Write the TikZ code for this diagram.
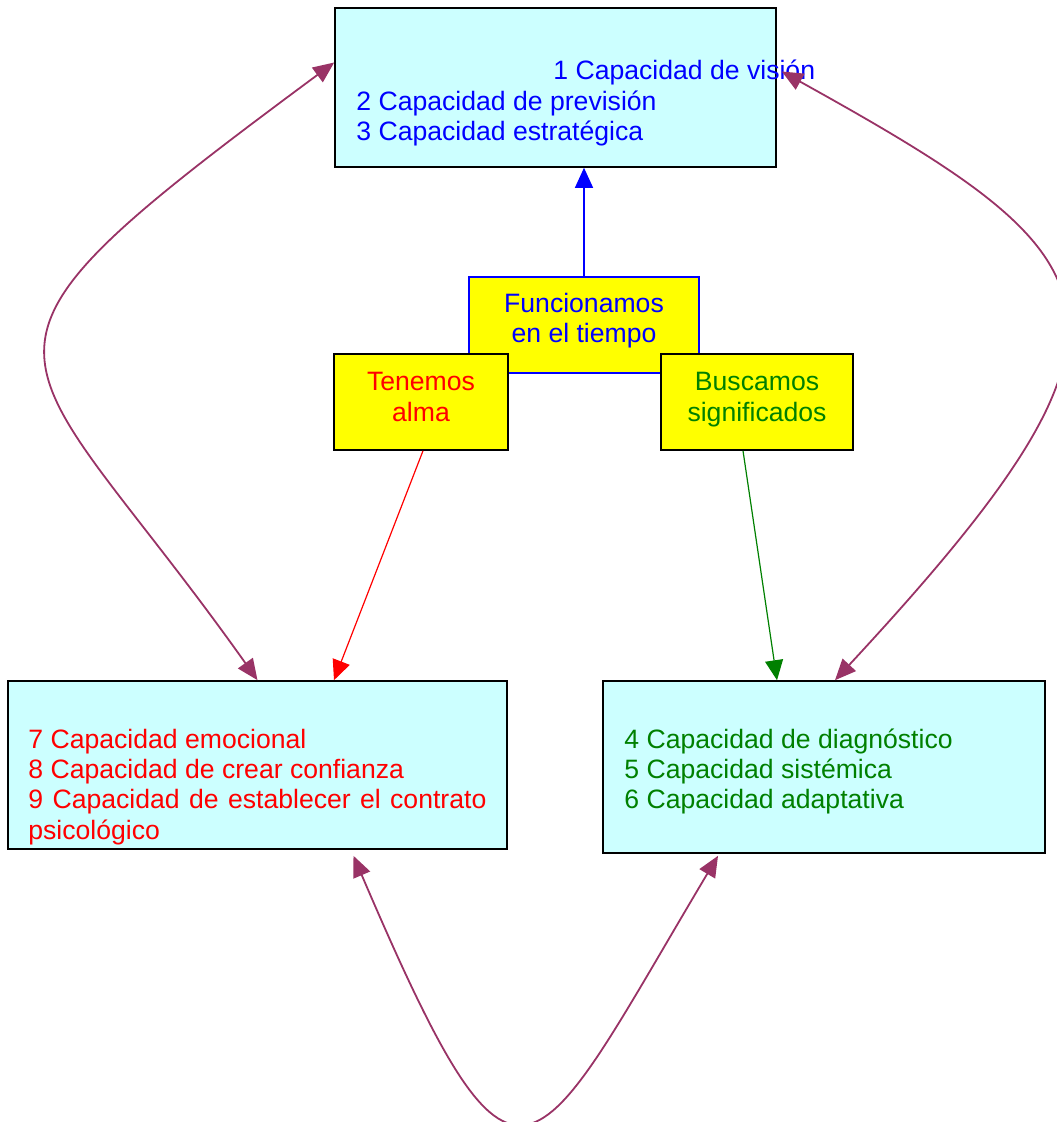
\documentclass[tikz,border=0pt]{standalone}
\usepackage{fontspec}
\setmainfont{Liberation Sans}
\usetikzlibrary{arrows.meta,calc}
\definecolor{celeste}{HTML}{CCFFFF}
\definecolor{amarillo}{HTML}{FFFF00}
\definecolor{verde}{HTML}{008000}
\definecolor{granate}{HTML}{993366}
\begin{document}
\begin{tikzpicture}[x=0.5pt,y=-0.5pt,
  caja/.style={draw=black,line width=0.8pt,fill=celeste,inner sep=0pt},
  nota/.style={draw=black,line width=0.8pt,fill=amarillo,align=center,inner sep=0pt,minimum height=48pt,text depth=5pt},
  linea/.style={anchor=base west,inner sep=0pt},
  flecha/.style={line width=0.6pt,-{Triangle[length=10pt,width=9pt]}},
  doble/.style={granate,line width=0.9pt,{Triangle[length=10.5pt,width=9pt]}-{Triangle[length=10.5pt,width=9pt]}}]
\fontsize{13.3}{15.25}\selectfont
\useasboundingbox (0,0) rectangle (1056,1122);
% cajas de capacidades
\node[caja,minimum width=220.5pt,minimum height=79.5pt] (vision) at (555.5,87.5) {};
\node[caja,minimum width=249.5pt,minimum height=84pt] (emocional) at (257.5,765) {};
\node[caja,minimum width=221pt,minimum height=86pt] (diagnostico) at (824,767) {};
\foreach \n/\x/\y/\t in {1/553/80/1 Capacidad de visión, 2/356/111/2 Capacidad de previsión, 3/356/141/3 Capacidad estratégica}
  \node[linea,blue] (v\n) at (\x,\y) {\t};
\foreach \n/\y/\t in {7/748/7 Capacidad emocional, 8/778/8 Capacidad de crear confianza, 10/839/psicológico}
  \node[linea,red] (e\n) at (28,\y) {\t};
\node[linea,red] (e9) at (28,808) {\makebox[229pt][s]{9 Capacidad de establecer el contrato}};
\foreach \n/\y/\t in {4/748/4 Capacidad de diagnóstico, 5/778/5 Capacidad sistémica, 6/808/6 Capacidad adaptativa}
  \node[linea,verde] (d\n) at (624,\y) {\t};
% notas amarillas
\node[nota,draw=blue,text=blue,minimum width=115pt,text depth=7pt] (tiempo) at (584,325) {Funcionamos\\en el tiempo};
\node[nota,text=red,minimum width=87pt] (alma) at (421,402) {Tenemos\\alma};
\node[nota,text=verde,minimum width=96pt] (significados) at (757,402) {Buscamos\\significados};
% flechas
\draw[flecha,blue] (tiempo.north) -- (tiempo.north |- vision.south);
\draw[flecha,red] ($(alma.south)+(2,0)$) -- ($(emocional.north)+(76.5,0)$);
\draw[flecha,verde] ($(significados.south)+(-14,0)$) -- ($(diagnostico.north)+(-47,0)$);
\draw[doble] ($(vision.west)+(0,-25)$) .. controls (-80,369) and (10,331) .. (emocional.north);
\draw[doble] ($(vision.east)+(5,-16)$) .. controls (1121,260) and (1173,316) .. ($(diagnostico.north)+(11,0)$);
\draw[doble] ($(emocional.south)+(96,6)$) .. controls (520,1245) and (530,1171) .. ($(diagnostico.south)+(-106,2)$);
\end{tikzpicture}
\end{document}
